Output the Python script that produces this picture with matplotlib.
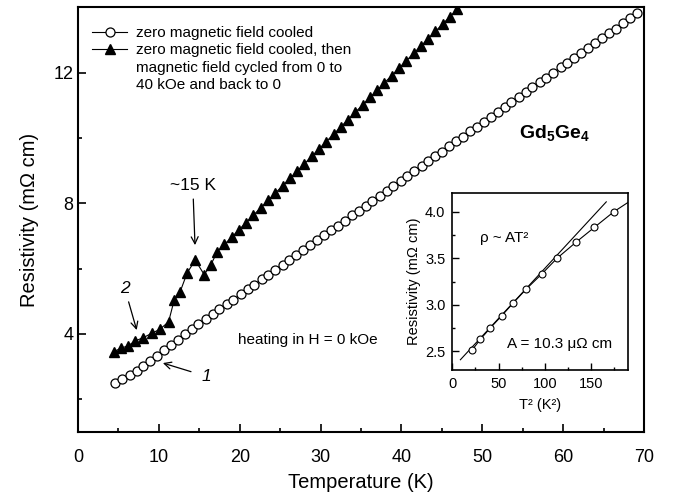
import matplotlib
matplotlib.use('Agg')
import matplotlib.pyplot as plt
from matplotlib.lines import Line2D
from matplotlib.ticker import MultipleLocator

plt.rcParams['font.family'] = ['Liberation Sans', 'DejaVu Sans']
plt.rcParams['mathtext.fontset'] = 'custom'
plt.rcParams['mathtext.rm'] = 'Liberation Sans'
plt.rcParams['mathtext.bf'] = 'Liberation Sans:bold'
plt.rcParams['mathtext.it'] = 'Liberation Sans:italic'

# ---- main data: zero-field-cooled (open circles) ----
zfc_T = [4.6, 5.5, 6.4, 7.3, 8.1, 8.9, 9.8, 10.6, 11.5, 12.4, 13.2, 14.1, 14.9,
         15.8, 16.7, 17.5, 18.4, 19.2, 20.1, 21.0, 21.8, 22.7, 23.5, 24.4, 25.3,
         26.1, 27.0, 27.8, 28.7, 29.6, 30.4, 31.3, 32.1, 33.0, 33.9, 34.7, 35.6,
         36.4, 37.3, 38.2, 39.0, 39.9, 40.7, 41.6, 42.5, 43.3, 44.2, 45.0, 45.9,
         46.8, 47.6, 48.5, 49.3, 50.2, 51.1, 51.9, 52.8, 53.6, 54.5, 55.4, 56.2,
         57.1, 57.9, 58.8, 59.7, 60.5, 61.4, 62.2, 63.1, 64.0, 64.8, 65.7, 66.5,
         67.4, 68.3, 69.1]
zfc_rho = [2.51, 2.63, 2.75, 2.88, 3.02, 3.17, 3.33, 3.50, 3.67, 3.83, 4.00, 4.16,
           4.30, 4.46, 4.61, 4.75, 4.91, 5.05, 5.21, 5.37, 5.51, 5.67, 5.81, 5.97,
           6.12, 6.26, 6.42, 6.56, 6.72, 6.88, 7.02, 7.18, 7.32, 7.47, 7.63, 7.77,
           7.93, 8.07, 8.23, 8.39, 8.53, 8.69, 8.83, 8.98, 9.14, 9.28, 9.44, 9.58,
           9.74, 9.90, 10.04, 10.20, 10.34, 10.49, 10.65, 10.79, 10.95, 11.09,
           11.25, 11.41, 11.55, 11.71, 11.84, 12.00, 12.16, 12.30, 12.46, 12.60,
           12.76, 12.91, 13.05, 13.21, 13.35, 13.51, 13.67, 13.81]

# ---- main data: ZFC then field cycled 0 -> 40 kOe -> 0 (filled triangles) ----
cyc_T = [4.4, 5.3, 6.2, 7.1, 8.1, 9.1, 10.1, 11.2, 11.9, 12.6, 13.5, 14.5, 15.6,
         16.4, 17.2, 18.1, 19.0, 19.9, 20.8, 21.7, 22.6, 23.5, 24.4, 25.3, 26.2,
         27.1, 28.0, 28.9, 29.8, 30.7, 31.6, 32.5, 33.4, 34.3, 35.2, 36.1, 37.0,
         37.9, 38.8, 39.7, 40.6, 41.5, 42.4, 43.3, 44.2, 45.1, 46.0, 46.9]
cyc_rho = [3.46, 3.56, 3.64, 3.79, 3.89, 4.02, 4.14, 4.37, 5.04, 5.27, 5.87, 6.26,
           5.82, 6.10, 6.51, 6.74, 6.96, 7.19, 7.41, 7.64, 7.86, 8.09, 8.31, 8.54,
           8.76, 8.99, 9.21, 9.44, 9.66, 9.89, 10.11, 10.34, 10.56, 10.79, 11.01,
           11.24, 11.46, 11.69, 11.91, 12.14, 12.36, 12.59, 12.81, 13.04, 13.26,
           13.49, 13.71, 13.94]

# ---- inset: rho vs T^2 ----
inset_T2 = [21.0, 30.3, 40.9, 53.1, 65.8, 79.9, 96.5, 113.1, 133.3, 153.2, 174.5, 199.0]
inset_rho = [2.51, 2.63, 2.75, 2.88, 3.02, 3.17, 3.33, 3.50, 3.67, 3.83, 4.00, 4.16]
fit_T2 = [8.7, 166.2]
fit_rho = [2.41, 4.105]

main_xticks = [0, 10, 20, 30, 40, 50, 60, 70]
main_yticks = [4, 8, 12]
inset_xticks = [0, 50, 100, 150]
inset_yticks = [2.5, 3.0, 3.5, 4.0]

fig = plt.figure(figsize=(6.73, 4.99), dpi=100)
ax = fig.add_axes([0.1159, 0.1343, 0.8410, 0.8511])

ax.plot(zfc_T, zfc_rho, '-o', color='k', mfc='white', mec='k', ms=6.5, mew=0.9, lw=0.8)
ax.plot(cyc_T, cyc_rho, '-^', color='k', mfc='k', ms=7, lw=0.8)

ax.set_xlim(0, 70)
ax.set_ylim(1, 14)
ax.set_xticks(main_xticks)
ax.set_yticks(main_yticks)
ax.xaxis.set_minor_locator(MultipleLocator(5))
ax.yaxis.set_minor_locator(MultipleLocator(2))
ax.tick_params(which='both', direction='in', width=1.2, labelsize=13)
ax.tick_params(axis='x', which='both', pad=12.5)
ax.tick_params(axis='y', which='both', pad=3.5)
ax.tick_params(which='major', length=6)
ax.tick_params(which='minor', length=3)
for s in ax.spines.values():
    s.set_linewidth(1.5)
ax.set_xlabel('Temperature (K)', fontsize=14.5, labelpad=5)
ax.set_ylabel('Resistivity (mΩ cm)', fontsize=14.5, labelpad=10)

# legend
blank = Line2D([], [], linestyle='none', marker=None)
h1 = Line2D([], [], color='k', lw=0.8, marker='o', mfc='white', mec='k', ms=6.5, mew=0.9)
h2 = Line2D([], [], color='k', lw=0.8, marker='^', mfc='k', ms=7)
ax.legend([h1, h2, blank, blank],
          ['zero magnetic field cooled', 'zero magnetic field cooled, then',
           'magnetic field cycled from 0 to', '40 kOe and back to 0'],
          loc='upper left', bbox_to_anchor=(0.025, 0.955), frameon=False,
          fontsize=11, handlelength=2.3, handletextpad=0.6, labelspacing=0.2,
          borderpad=0, borderaxespad=0, numpoints=1)

ax.text(63.3, 10.15, r'$\mathbf{Gd}_{\mathbf{5}}\mathbf{Ge}_{\mathbf{4}}$', fontsize=14,
        ha='right', va='center')
ax.text(19.8, 3.82, 'heating in H = 0 kOe', fontsize=11, ha='left', va='center')

ax.annotate('~15 K', xy=(14.47, 6.72), xytext=(14.2, 8.3), fontsize=12.5,
            ha='center', va='bottom',
            arrowprops=dict(arrowstyle='->', color='k', lw=0.9, shrinkA=2, shrinkB=0))
ax.annotate('2', xy=(7.26, 4.12), xytext=(5.8, 5.15), fontsize=12.5, style='italic',
            ha='center', va='bottom',
            arrowprops=dict(arrowstyle='->', color='k', lw=0.9, shrinkA=2, shrinkB=0))
ax.annotate('1', xy=(10.5, 3.11), xytext=(15.9, 2.70), fontsize=12.5, style='italic',
            ha='center', va='center',
            arrowprops=dict(arrowstyle='->', color='k', lw=0.9, shrinkA=6, shrinkB=0))

# inset
axi = fig.add_axes([0.6721, 0.2585, 0.2615, 0.3547])
axi.plot(fit_T2, fit_rho, '-', color='k', lw=0.8)
axi.plot(inset_T2, inset_rho, '-o', color='k', mfc='white', mec='k', ms=5, mew=0.8, lw=0.8)
axi.set_xlim(0, 190)
axi.set_ylim(2.3, 4.2)
axi.set_xticks(inset_xticks)
axi.set_yticks(inset_yticks)
axi.set_yticklabels(['2.5', '3.0', '3.5', '4.0'])
axi.xaxis.set_minor_locator(MultipleLocator(25))
axi.yaxis.set_minor_locator(MultipleLocator(0.25))
axi.tick_params(which='both', direction='in', width=1.0, labelsize=10.5, pad=5)
axi.tick_params(which='major', length=5)
axi.tick_params(which='minor', length=2.5)
for s in axi.spines.values():
    s.set_linewidth(1.2)
axi.set_xlabel('T² (K²)', fontsize=10.5, labelpad=5)
axi.set_ylabel('Resistivity (mΩ cm)', fontsize=10.5, labelpad=3)
axi.text(30, 3.72, 'ρ ~ AT²', fontsize=11, ha='left', va='center')
axi.text(59, 2.575, 'A = 10.3 μΩ cm', fontsize=11, ha='left', va='center')

fig.savefig('out.png', dpi=100)
